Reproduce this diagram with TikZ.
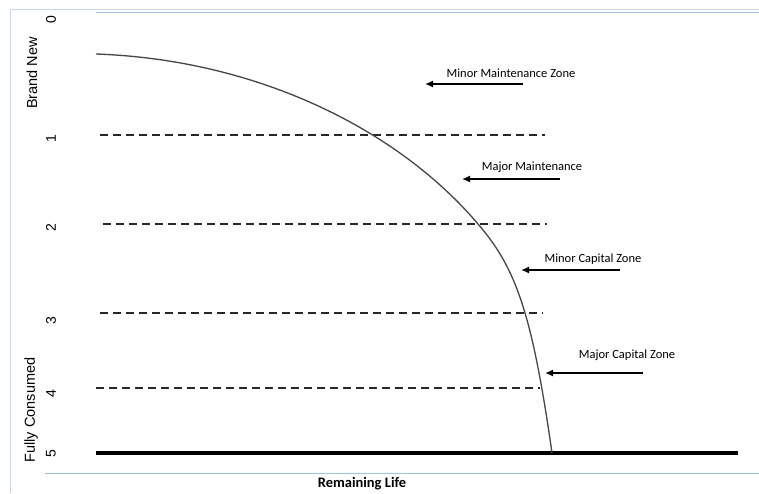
\documentclass[tikz,border=0pt]{standalone}
\usepackage{fontspec}
\setmainfont{Carlito}
\newfontfamily\axisfont{Liberation Sans}
\usetikzlibrary{arrows.meta}
\definecolor{framecol}{RGB}{205, 215, 228}
\definecolor{rulecol}{RGB}{160, 192, 230}
\definecolor{curvecol}{RGB}{70, 70, 70}
\definecolor{dashcol}{RGB}{40, 40, 40}

\begin{document}
\begin{tikzpicture}[
    x=1pt, y=-1pt,
    >=Latex,
    curve/.style={draw=curvecol, line width=1.3pt},
    zoneline/.style={draw=dashcol, line width=2.2pt, dash pattern=on 8pt off 5pt},
    baseline/.style={draw=black, line width=4.5pt},
    pointer/.style={-{Latex[length=8pt, width=7pt]}, line width=1.5pt},
    zonelabel/.style={inner sep=0pt, font=\fontsize{12.5}{14}\selectfont},
    ticklabel/.style={inner sep=0pt, rotate=90, font=\axisfont\fontsize{14}{16}\selectfont},
    axislabel/.style={inner sep=0pt, rotate=90, font=\axisfont\fontsize{14.5}{16}\selectfont}
]
\useasboundingbox (0,0) rectangle (759,493);
\fill[white] (0,0) rectangle (759,493);

% Frame of the chart area
\draw[framecol, line width=1pt] (10,493) -- (10,9) -- (759,9);
\draw[rulecol, line width=1.2pt] (96,12.5) -- (759,12.5);
\draw[rulecol, line width=1.2pt] (45,473.5) -- (759,473.5);

% Zone limits
\foreach \y/\xa/\xb in {135/100/545, 224/103/547, 313/100/543, 388/96/540}
    \draw[zoneline] (\xa,\y) -- (\xb,\y);
\draw[baseline] (96,453) -- (738,453);

% Condition curve
\draw[curve] (96,54) .. controls (264,60) and (402,134) .. (478,224)
    .. controls (516,268) and (532,313) .. (552,453);

% Vertical axis
\foreach \i/\y in {0/20, 1/139, 2/228, 3/321, 4/394, 5/454}
    \node[ticklabel] (tick\i) at (51,\y) {\i};
\node[axislabel] (brandnew) at (32,73) {Brand New};
\node[axislabel] (consumed) at (31,410) {Fully Consumed};

% Horizontal axis
\node[inner sep=0pt, font=\bfseries\fontsize{14.5}{16}\selectfont] (remaining) at (362,484) {Remaining Life};

% Zone labels and arrows
\node[zonelabel] (minmaint) at (511,73)  {Minor Maintenance Zone};
\node[zonelabel] (majmaint) at (532,167) {Major Maintenance};
\node[zonelabel] (mincap)   at (593,259) {Minor Capital Zone};
\node[zonelabel] (majcap)   at (627,355) {Major Capital Zone};

\coordinate (minmaint0) at (523,84);
\coordinate (minmaint1) at (425,84);
\coordinate (majmaint0) at (560,179);
\coordinate (majmaint1) at (462,179);
\coordinate (mincap0)   at (620,270);
\coordinate (mincap1)   at (521,270);
\coordinate (majcap0)   at (643,373);
\coordinate (majcap1)   at (545,373);
\draw[pointer] (minmaint0) -- (minmaint1);
\draw[pointer] (majmaint0) -- (majmaint1);
\draw[pointer] (mincap0) -- (mincap1);
\draw[pointer] (majcap0) -- (majcap1);

\end{tikzpicture}
\end{document}
